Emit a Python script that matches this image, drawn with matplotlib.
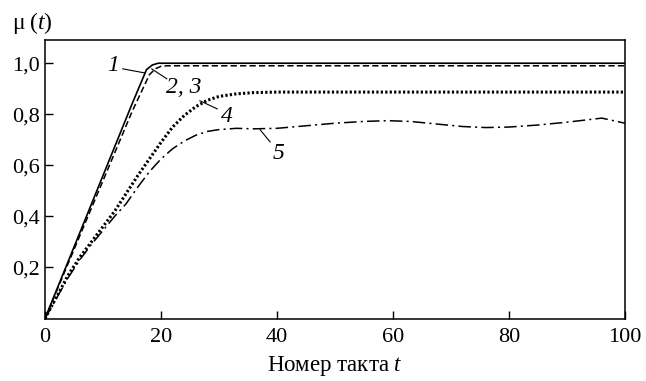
import matplotlib
matplotlib.use("Agg")
import matplotlib.pyplot as plt
from matplotlib.ticker import FuncFormatter

plt.rcParams['font.family'] = ['Liberation Serif', 'DejaVu Serif']
plt.rcParams['mathtext.fontset'] = 'custom'
plt.rcParams['mathtext.rm'] = 'Liberation Serif'
plt.rcParams['mathtext.it'] = 'Liberation Serif:italic'
plt.rcParams['lines.scale_dashes'] = False

# Curve 1 (solid)
t1 = [0, 5, 10, 15, 17.5, 18.5, 19.5, 21, 100]
mu1 = [0, 0.28, 0.56, 0.84, 0.975, 0.993, 1.0, 1.0, 1.0]
# Curves 2, 3 (dashed)
t23 = [0, 5, 10, 15, 18, 19, 20, 21, 100]
mu23 = [0, 0.27, 0.54, 0.81, 0.955, 0.978, 0.988, 0.99, 0.99]
# Curve 4 (dotted)
t4 = [0, 2, 4, 6, 8, 10, 12, 14, 16, 18, 20, 22, 24, 26, 28, 30, 33, 36, 40, 100]
mu4 = [0, 0.085, 0.17, 0.24, 0.3, 0.36, 0.42, 0.49, 0.56, 0.625, 0.69, 0.75,
       0.795, 0.83, 0.855, 0.87, 0.88, 0.885, 0.887, 0.887]
# Curve 5 (dash-dot)
t5 = [0, 2, 4, 6, 8, 10, 12, 14, 16, 18, 20, 22, 24, 26, 28, 30, 33, 36, 40, 45,
      50, 55, 59, 63, 67, 72, 76, 80, 85, 90, 93, 96, 100]
mu5 = [0, 0.08, 0.16, 0.23, 0.29, 0.345, 0.4, 0.45, 0.515, 0.575, 0.625, 0.665,
       0.695, 0.718, 0.733, 0.74, 0.745, 0.743, 0.745, 0.755, 0.765, 0.772, 0.775,
       0.772, 0.763, 0.752, 0.748, 0.75, 0.758, 0.769, 0.777, 0.785, 0.765]

x_ticks = [0, 20, 40, 60, 80, 100]
y_ticks = [0.2, 0.4, 0.6, 0.8, 1.0]

# Curve labels: text, text position, leader start, leader end
labels = [
    ("1", (11.7, 0.99), (13.4, 0.978), (17.2, 0.962)),
    ("2, 3", (24.0, 0.905), (18.4, 0.978), (21.0, 0.939)),
    ("4", (31.4, 0.79), (26.7, 0.853), (29.7, 0.821)),
    ("5", (40.2, 0.648), (37.1, 0.739), (38.8, 0.692)),
]

fig = plt.figure(figsize=(6.46, 3.81), dpi=100)
ax = fig.add_axes([45/646, 1 - 318.5/381, 580/646, 278.5/381])

ax.plot(t1, mu1, color='black', lw=1.2, ls='-')
ax.plot(t23, mu23, color='black', lw=1.1, ls=(0, (4.5, 2.3)))
ax.plot(t4, mu4, color='black', lw=2.2, ls=(0, (1.6, 1.6)), dash_capstyle='butt')
ax.plot(t5, mu5, color='black', lw=1.1, ls=(0, (9, 3, 1.5, 3)))

for txt, tp, a, b in labels:
    ax.plot([a[0], b[0]], [a[1], b[1]], color='black', lw=0.8)
    ax.text(tp[0], tp[1], txt, fontsize=17, style='italic', ha='center', va='center')

ax.set_xlim(0, 100)
ax.set_ylim(0, 1.091)
ax.set_xticks(x_ticks)
ax.set_yticks(y_ticks)
ax.yaxis.set_major_formatter(FuncFormatter(lambda v, p: f"{v:.1f}".replace('.', ',')))
ax.tick_params(direction='in', length=6, width=1, labelsize=16)
ax.tick_params(axis='y', pad=3.5)
ax.tick_params(axis='x', pad=7)
for s in ax.spines.values():
    s.set_linewidth(1.1)

ax.set_xlabel(r'Номер такта $t$', fontsize=16.5, labelpad=5)
fig.text(12/646, 1 - 23/381, 'μ\u2009($t$)', fontsize=17, ha='left', va='center')

fig.savefig('out.png', dpi=100)
